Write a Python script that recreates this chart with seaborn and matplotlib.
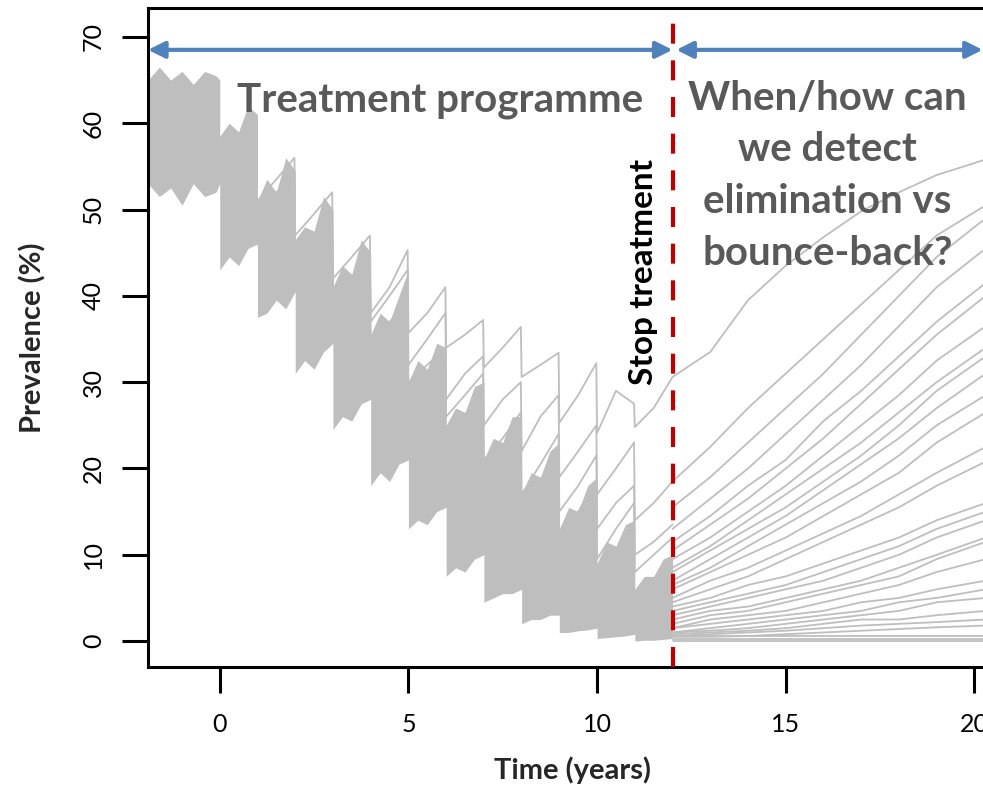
import pandas as pd
import seaborn as sns
import matplotlib
matplotlib.use("Agg")
import matplotlib.pyplot as plt

# dense cloud of runs during treatment: lower / upper edge, drops at each yearly round
band_time = [-1.9, -1.6, -1.3, -1.0, -0.7, -0.4, -0.1, 0.0,
             0.0, 0.25, 0.5, 0.75, 1.0,
             1.0, 1.25, 1.5, 1.75, 2.0,
             2.0, 2.25, 2.5, 2.75, 3.0,
             3.0, 3.25, 3.5, 3.75, 4.0,
             4.0, 4.25, 4.5, 4.75, 5.0,
             5.0, 5.25, 5.5, 5.75, 6.0,
             6.0, 6.25, 6.5, 6.75, 7.0,
             7.0, 7.25, 7.5, 7.75, 8.0,
             8.0, 8.25, 8.5, 8.75, 9.0,
             9.0, 9.25, 9.5, 9.75, 10.0,
             10.0, 10.25, 10.5, 10.75, 11.0,
             11.0, 11.25, 11.5, 11.75, 12.0]
band_low = [53, 51.5, 52.5, 50.5, 53, 51.5, 52, 53,
            43, 44.5, 43.5, 45.5, 46,
            37.5, 38, 39.5, 38.5, 40.5,
            31, 32.5, 31.5, 33.5, 34.5,
            24.5, 26, 25.5, 27.5, 28,
            18, 19.5, 18.5, 20.5, 21,
            13, 14, 13.5, 15, 15.5,
            7.5, 8.5, 8, 9.5, 10,
            4.5, 5, 5.5, 5.5, 6,
            2, 2.5, 2.5, 3, 3,
            1, 1, 1.2, 1.3, 1.5,
            0.3, 0.4, 0.5, 0.6, 0.8,
            0, 0.1, 0.1, 0.2, 0.3]
band_high = [65, 66.5, 65, 66, 64.5, 66, 65.5, 65,
             58.5, 60, 59, 62, 61,
             51, 53.5, 52, 56, 54.5,
             46.5, 48, 47.5, 51.5, 50,
             41, 43.5, 42.5, 46.5, 45,
             35.5, 38, 37, 40, 43,
             30, 32.5, 31.5, 34.5, 34,
             25, 27, 26.5, 29.5, 30,
             21, 23.5, 23, 26, 26,
             17, 19.5, 19, 22, 23,
             13, 15.5, 15, 18, 19,
             9, 11.5, 11, 13.5, 14,
             6, 7.5, 7.5, 9.5, 10]

# single runs that stick out above the cloud (years 1-12)
saw_time = [1.0, 1.5, 1.98, 2.0, 2.5, 2.98, 3.0, 3.5, 3.98, 4.0, 4.5, 4.98,
            5.0, 5.5, 5.98, 6.0, 6.5, 6.98, 7.0, 7.5, 7.98, 8.0, 8.5, 8.98,
            9.0, 9.5, 9.98, 10.0, 10.5, 10.98, 11.0, 11.5, 12.0]
run_a = [50, 52, 54, 45, 47, 49, 38, 40, 43, 38, 41, 45.3,
         35.7, 38, 41, 34, 35.5, 37.2, 31.7, 34, 36.4, 30.6, 32, 33.4,
         25.3, 28.5, 32.2, 24.1, 29, 27.5, 24.8, 27, 30.6]
run_b = [51, 53.5, 56, 47, 49.5, 52, 42, 44.5, 47, 37, 40, 43,
         32, 35, 38, 28, 31, 33, 25, 28, 30, 22, 26, 28.5,
         19, 22, 25, 17, 20, 23, 14, 16, 18.5]
run_c = [48, 51, 53, 44, 46, 48, 40, 42, 44, 35, 37, 39,
         30, 32, 34, 26, 28.5, 31, 21, 23.5, 26.5, 17, 20.5, 24,
         15, 18, 21.5, 13, 16, 18, 10, 11.5, 13.5]
run_d = [46, 48, 50, 41, 43, 45, 35, 37, 39, 30, 32, 34,
         24, 26, 28, 20, 22, 24, 16, 18, 20, 14, 17, 20,
         12, 15, 18.5, 9.5, 13, 16, 8, 10, 12]

# after treatment stops (year 12)
post_time = [12, 13, 14, 15, 16, 17, 18, 19, 20.3]
post_runs = [
    [30.6, 33.5, 39.5, 43.5, 46.8, 49.8, 52, 54, 55.8],
    [18.5, 22.5, 27, 31, 35, 39, 43, 47, 50.5],
    [15.5, 19, 23, 27, 31, 35.5, 40, 44.5, 49],
    [13, 16.5, 20, 24, 28, 32, 36.5, 41, 45.5],
    [11.5, 14.5, 18, 21, 25.5, 29, 33, 37, 41.5],
    [10.5, 13.5, 16.5, 20, 23.5, 27.5, 31.5, 35.5, 40],
    [9.5, 12, 15, 18, 21.5, 25, 28.5, 32.5, 36.5],
    [8.5, 11, 14, 17, 20, 23, 26.5, 30, 34],
    [8, 10.5, 13, 15.5, 18.5, 21.5, 25, 29, 33],
    [7, 9.5, 12, 14.5, 17.5, 20.5, 23.5, 27, 31],
    [6.5, 8.5, 11, 13.5, 16, 18.5, 21.5, 25, 28.5],
    [6, 8, 10, 12, 14.5, 17, 19.5, 23, 26.5],
    [5, 7, 8.5, 10.5, 12.5, 14.5, 17, 19.5, 22.5],
    [4.5, 6, 7.5, 9.5, 11.5, 13.5, 15.5, 18, 20.8],
    [4, 5, 6.5, 7.5, 9, 10.5, 12, 14, 16],
    [3.5, 4.5, 5.5, 6.5, 8, 9.5, 11, 13, 15],
    [3, 4, 5, 6, 7, 8.5, 10, 12, 14],
    [2.5, 3.5, 4, 5, 6, 7, 8.5, 10, 12],
    [2, 3, 3.5, 4.5, 5.5, 6.5, 7.5, 9.5, 11.5],
    [1.5, 2.5, 3, 3.5, 4.5, 5.5, 6.5, 8, 9.5],
    [1.5, 2, 2.5, 3, 3.5, 4.5, 5, 6, 7],
    [1, 1.5, 2, 2.5, 3, 3.5, 4.5, 5, 6],
    [1, 1.2, 1.5, 2, 2.5, 3, 3.5, 4.5, 5],
    [0.8, 1, 1.2, 1.5, 2, 2.5, 2.5, 3, 3.5],
    [0.6, 0.8, 1, 1.2, 1.5, 1.8, 2, 2.2, 2.5],
    [0.5, 0.5, 0.6, 0.8, 1, 1.2, 1.4, 1.6, 1.8],
    [0.6, 0.6, 0.6, 0.6, 0.6, 0.6, 0.6, 0.6, 0.6],
    [0.3, 0.3, 0.3, 0.3, 0.3, 0.3, 0.3, 0.3, 0.3],
    [0, 0, 0, 0, 0, 0, 0, 0, 0],
]

grey = "#BEBEBE"
txt_grey = "#595959"

sns.set_style("ticks")
plt.rcParams["font.family"] = ["Lato", "DejaVu Sans"]

rows = []
for i, run in enumerate([run_a, run_b, run_c, run_d]):
    for t, v in zip(saw_time, run):
        rows.append((t, v, "t%d" % i))
for i, run in enumerate(post_runs):
    for t, v in zip(post_time, run):
        rows.append((t, v, "p%d" % i))
df = pd.DataFrame(rows, columns=["time", "prev", "run"])

fig = plt.figure(figsize=(9.83, 7.9), dpi=100)
ax = fig.add_axes([0.1506, 0.1557, 0.8637, 0.8342])

ax.fill_between(band_time, band_low, band_high, color=grey, lw=0)
sns.lineplot(data=df, x="time", y="prev", units="run", estimator=None, sort=False,
             color=grey, lw=1.3, legend=False, ax=ax)

ax.axvline(12, color="#C00000", lw=3, linestyle=(0, (4.8, 4)), zorder=5)

arrow = dict(arrowstyle="<|-|>", color="#4F81BD", lw=3, mutation_scale=25,
             shrinkA=0, shrinkB=0)
ax.annotate("", xy=(-1.9, 68.5), xytext=(12.0, 68.5), arrowprops=arrow)
ax.annotate("", xy=(12.1, 68.5), xytext=(20.22, 68.5), arrowprops=arrow)

ax.text(5.85, 61.3, "Treatment programme", ha="center", va="baseline",
        fontsize=29, fontweight="bold", color=txt_grey)
ax.text(16.1, 43.6, "When/how can\nwe detect\nelimination vs\nbounce-back?",
        ha="center", va="baseline", fontsize=29, fontweight="bold",
        color=txt_grey, linespacing=1.49)
ax.text(11.23, 42.8, "Stop treatment", rotation=90, ha="center", va="center",
        fontsize=24, fontweight="bold", color="black")

ax.set_xlim(-1.9, 20.6)
ax.set_ylim(-3.0, 73.35)
ax.set_xticks([0, 5, 10, 15, 20])
ax.set_yticks([0, 10, 20, 30, 40, 50, 60, 70])
ax.tick_params(axis="both", length=19, width=2.2, labelsize=18, colors="black")
ax.tick_params(axis="x", pad=14)
ax.tick_params(axis="y", pad=12, labelrotation=90)
for lab in ax.get_yticklabels():
    lab.set_va("center")

for side in ["left", "bottom", "top", "right"]:
    ax.spines[side].set_linewidth(2.2)
    ax.spines[side].set_color("black")

ax.set_xlabel("Time (years)", fontsize=21, fontweight="bold")
ax.set_ylabel("Prevalence (%)", fontsize=21, fontweight="bold")
ax.xaxis.set_label_coords(0.5, -0.135)
ax.yaxis.set_label_coords(-0.12, 0.5)

fig.savefig("out.png", dpi=100)
